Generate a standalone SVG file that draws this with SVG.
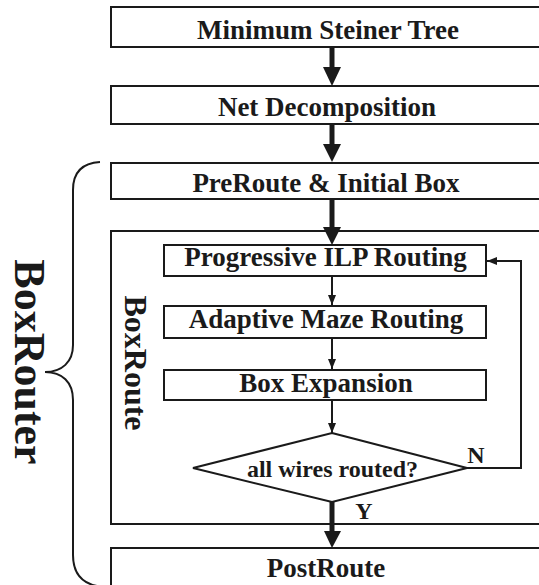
<svg xmlns="http://www.w3.org/2000/svg" width="539" height="585" viewBox="0 0 539 585">
  <defs>
    <style>
      .box { fill: #fff; stroke: #1a1a1a; stroke-width: 2; }
      .frame { fill: none; stroke: #1a1a1a; stroke-width: 2; }
      .lbl { font-family: "Liberation Serif", "Times New Roman", serif; font-weight: bold; font-size: 27px; fill: #1a1a1a; text-anchor: middle; }
      .small { font-size: 24px; }
      .side { font-family: "Liberation Serif", "Times New Roman", serif; font-weight: bold; fill: #1a1a1a; text-anchor: middle; }
      .thin { fill: none; stroke: #1a1a1a; stroke-width: 2; }
      .thick { fill: none; stroke: #1a1a1a; stroke-width: 5; }
      .head { fill: #1a1a1a; }
    </style>
    <marker id="tip" markerUnits="userSpaceOnUse" markerWidth="10" markerHeight="10" viewBox="0 0 10 10" refX="10" refY="5" orient="auto">
      <path d="M0,1 L10,5 L0,9 Z" fill="#1a1a1a"/>
    </marker>
  </defs>
  <rect width="539" height="585" fill="#fff"/>

  <!-- BoxRouter brace and label -->
  <g id="boxrouter-brace">
    <path class="thin" d="M100,162 C82,163 73,172 73,190 L73,345 C73,362 62,372 45,372 C62,372 73,382 73,400 L73,555 C73,573 82,583 97,586"/>
    <text class="side" font-size="44" transform="translate(15,362) rotate(90)">BoxRouter</text>
  </g>

  <!-- BoxRoute container -->
  <g id="boxroute">
    <rect class="frame" x="111" y="231" width="440" height="293"/>
    <text class="side" font-size="32" transform="translate(125,363) rotate(90)">BoxRoute</text>
  </g>

  <g id="steiner">
    <rect class="box" x="111" y="7" width="440" height="40"/>
    <text class="lbl" x="328" y="39">Minimum Steiner Tree</text>
  </g>
  <g id="decomp">
    <rect class="box" x="111" y="86" width="440" height="38"/>
    <text class="lbl" x="327" y="116">Net Decomposition</text>
  </g>
  <g id="preroute">
    <rect class="box" x="111" y="163" width="440" height="36"/>
    <text class="lbl" x="326" y="192">PreRoute &amp; Initial Box</text>
  </g>
  <g id="ilp">
    <rect class="box" x="164" y="245" width="322" height="31"/>
    <text class="lbl" x="325.5" y="266">Progressive ILP Routing</text>
  </g>
  <g id="maze">
    <rect class="box" x="164" y="306" width="322" height="32"/>
    <text class="lbl" x="326" y="328">Adaptive Maze Routing</text>
  </g>
  <g id="expansion">
    <rect class="box" x="164" y="370" width="322" height="30"/>
    <text class="lbl" x="326" y="392">Box Expansion</text>
  </g>
  <g id="check">
    <polygon class="box" points="332,433 467,468 332,502 193,468"/>
    <text class="lbl small" x="332.5" y="477">all wires routed?</text>
  </g>
  <g id="postroute">
    <rect class="box" x="111" y="548" width="440" height="45"/>
    <text class="lbl" x="326" y="577">PostRoute</text>
  </g>

  <!-- connectors -->
  <g id="connectors">
    <line class="thick" x1="332" y1="48" x2="332" y2="70"/>
    <polygon class="head" points="323,67 341,67 332,86"/>
    <line class="thick" x1="332" y1="125" x2="332" y2="147"/>
    <polygon class="head" points="323,144 341,144 332,162"/>
    <line class="thick" x1="332" y1="200" x2="332" y2="229"/>
    <polygon class="head" points="323,227 341,227 332,245"/>

    <line class="thin" x1="332" y1="277" x2="332" y2="305" marker-end="url(#tip)"/>
    <line class="thin" x1="332" y1="339" x2="332" y2="369" marker-end="url(#tip)"/>
    <line class="thin" x1="332" y1="401" x2="332" y2="433" marker-end="url(#tip)"/>

    <path class="thin" d="M467,468 H521 V261 H487" marker-end="url(#tip)"/>
    <text class="lbl small" x="476" y="463">N</text>

    <line class="thick" x1="332" y1="502" x2="332" y2="534"/>
    <polygon class="head" points="324,531 341,531 332,548"/>
    <text class="lbl small" x="364" y="519">Y</text>
  </g>
</svg>
